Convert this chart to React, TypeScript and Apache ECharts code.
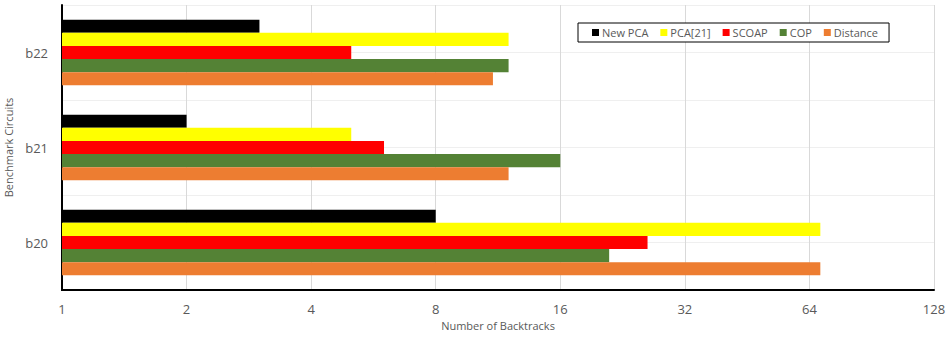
import React, { useEffect, useRef } from "react";
import * as echarts from "echarts";

const circuits = ["b20", "b21", "b22"];
const newPca = [8, 2, 3];
const pca21 = [68, 5, 12];
const scoap = [26, 6, 5];
const cop = [21, 16, 12];
const distance = [68, 12, 11];

const seriesDefs = [
  { name: "New PCA", data: newPca, color: "#000000" },
  { name: "PCA[21]", data: pca21, color: "#FFFF00" },
  { name: "SCOAP", data: scoap, color: "#FF0000" },
  { name: "COP", data: cop, color: "#548235" },
  { name: "Distance", data: distance, color: "#ED7D31" },
];

// half-band slots: one horizontal gridline at every band edge and band centre
const halfBands = circuits.flatMap((c) => [c + "-lo", c + "-hi"]);

const FONT = "'Open Sans', 'Noto Sans', sans-serif";
const W = 948;
const H = 339;
const GRID = { left: 62, right: 14, top: 5, bottom: 49 };

export default function App() {
  const ref = useRef<HTMLDivElement>(null);

  useEffect(() => {
    if (!ref.current) return;
    const chart = echarts.init(ref.current, null, { renderer: "svg" });
    const baseY = H - GRID.bottom;
    chart.setOption({
      animation: false,
      backgroundColor: "#ffffff",
      textStyle: { fontFamily: FONT },
      grid: {
        ...GRID,
        containLabel: false,
        outerBoundsMode: "none",
      },
      legend: {
        data: seriesDefs.map((s) => s.name),
        left: 578,
        top: 23,
        orient: "horizontal",
        icon: "rect",
        itemWidth: 7,
        itemHeight: 7,
        itemGap: 12,
        padding: [4, 11, 4, 14],
        borderColor: "#000000",
        borderWidth: 1,
        backgroundColor: "#ffffff",
        textStyle: { fontSize: 11, color: "#595959", fontFamily: FONT, padding: [0, 0, 0, -2] },
      },
      xAxis: {
        type: "log",
        logBase: 2,
        min: 1,
        max: 128,
        position: "bottom",
        name: "Number of Backtracks",
        nameLocation: "middle",
        nameGap: 30,
        nameTextStyle: { fontSize: 11, color: "#595959", fontFamily: FONT },
        axisLine: { show: true, onZero: false, lineStyle: { color: "#000000", width: 2 } },
        axisTick: { show: false },
        axisLabel: { fontSize: 13, color: "#595959", margin: 12, fontFamily: FONT },
        splitLine: { show: true, lineStyle: { color: "#d9d9d9", width: 1 } },
      },
      yAxis: [
        {
          type: "category",
          data: circuits,
          name: "Benchmark Circuits",
          nameLocation: "middle",
          nameGap: 42,
          nameTextStyle: { fontSize: 11, color: "#595959", fontFamily: FONT },
          axisLine: { show: true, onZero: false, lineStyle: { color: "#000000", width: 2 } },
          axisTick: { show: false },
          axisLabel: { fontSize: 13, color: "#595959", margin: 14, fontFamily: FONT },
          splitLine: { show: false },
        },
        {
          type: "category",
          data: halfBands,
          position: "right",
          axisLine: { show: false },
          axisTick: { show: false },
          axisLabel: { show: false },
          splitLine: { show: true, lineStyle: { color: "#efefef", width: 1 } },
        },
      ],
      // solid baseline along the bottom of the plot area
      graphic: [
        {
          type: "rect",
          left: GRID.left - 1,
          top: baseY - 1,
          z: 100,
          silent: true,
          shape: { width: W - GRID.right - GRID.left + 1, height: 2 },
          style: { fill: "#000000" },
        },
      ],
      series: seriesDefs.map((s) => ({
        name: s.name,
        type: "bar",
        yAxisIndex: 0,
        data: s.data,
        barGap: "0%",
        barCategoryGap: "31%",
        itemStyle: { color: s.color },
      })),
    });
    return () => chart.dispose();
  }, []);

  return (
    <div
      ref={ref}
      style={{ position: "fixed", left: 0, top: 0, width: W, height: H }}
    />
  );
}
